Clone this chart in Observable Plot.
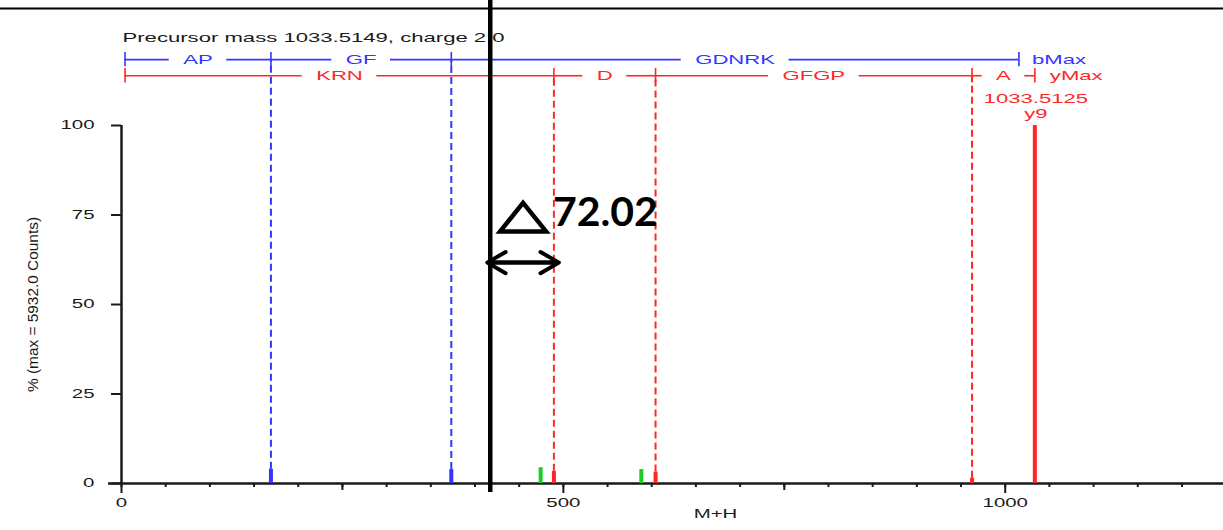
<!DOCTYPE html>
<html>
<head>
<meta charset="utf-8">
<script src="https://cdn.jsdelivr.net/npm/d3@7"></script>
<script src="https://cdn.jsdelivr.net/npm/@observablehq/plot@0.6"></script>
<style>
  html, body { margin: 0; padding: 0; background: #fff; }
  #chart svg { display: block; }
</style>
</head>
<body>
<div id="chart"></div>
<script>
// ---- spectrum data -------------------------------------------------------
const precursorMass = 1033.5149;
const precursorCharge = "2.0";
const maxCounts = "5932.0";

// b-ion ladder: fragment masses and the residues between them
const bLadderMasses = [4, 169.1, 373.2, 1015.5];
const bLadderLabels = ["AP", "GF", "GDNRK"];

// y-ion ladder: fragment masses and the residues between them
const yLadderMasses = [4, 489.29, 604.32, 962.48, 1033.5125];
const yLadderLabels = ["KRN", "D", "GFGP", "A"];

// observed peaks (M+H, % of base peak, ion type)
const peakMz   = [169.1, 373.2, 474.3, 489.29, 588.2, 604.32, 962.48, 1033.5125];
const peakPct  = [4.0,   3.9,   4.4,   3.4,    3.9,   3.2,    1.5,    100];
const peakType = ["b",   "b",   "other","y",   "other","y",   "y",    "y"];

// labelled base peak
const basePeakMz = 1033.5125;
const basePeakIon = "y9";

// mass shift of the y3 fragment
const shiftDelta = 72.02;
const shiftedY3 = 489.29;

// ---- layout --------------------------------------------------------------
const W = 1223, H = 530;
const M = {top: 125, right: 0, bottom: 47, left: 121};
const xDomain = [0, 1247];
const pxPerUnit = (W - M.left - M.right) / (xDomain[1] - xDomain[0]);
const font = "'Liberation Sans', Arial, sans-serif";
const blue = "#3535ff", red = "#ff2626", green = "#1fcc1f", ink = "#1a1a1a";
const rowB = 118.4, rowY = 113.9;        // ladder rows, in % units above the frame
const textStretch = 1.7;                  // the spectrum's labels are drawn wide

const peaks = peakMz.map((mz, i) => ({mz, pct: peakPct[i], type: peakType[i]}));
const colorOf = {b: blue, y: red, other: green};

// width of a label once stretched, used to open a gap in the ladder line
const ctx = document.createElement("canvas").getContext("2d");
ctx.font = "13px 'Liberation Sans'";
const halfGap = s => (ctx.measureText(s).width * textStretch) / 2 + 14;

function ladder(masses, labels, row) {
  const segs = labels.map((label, i) => {
    const a = masses[i], b = masses[i + 1], mid = (a + b) / 2;
    return {a, b, mid, label, g: halfGap(label) / pxPerUnit, row};
  });
  const lines = segs.flatMap(s => [
    {x1: s.a, x2: s.mid - s.g, row},
    {x1: s.mid + s.g, x2: s.b, row}
  ]).filter(d => d.x2 > d.x1);
  return {segs, lines, ticks: masses.map(m => ({m, row}))};
}
const bL = ladder(bLadderMasses, bLadderLabels, rowB);
const yL = ladder(yLadderMasses, yLadderLabels, rowY);

const pctAt = mz => peaks.find(p => Math.abs(p.mz - mz) < 0.5)?.pct ?? 0;
const guides = [
  ...bLadderMasses.slice(1, -1).map(m => ({m, row: rowB, c: blue, top: pctAt(m)})),
  ...yLadderMasses.slice(1, -1).map(m => ({m, row: rowY, c: red, top: pctAt(m)}))
];

const expectedY3 = shiftedY3 - shiftDelta;
const arrowY = 61.7;

const yLabel = `% (max = ${maxCounts} Counts)`;
const shiftText = shiftDelta.toFixed(2);

// custom flat triangle for the delta sign
const deltaSymbol = {
  draw(context, size) {
    const w = Math.sqrt(size / Math.PI) * 2, h = w * 0.62;
    context.moveTo(0, -h / 2);
    context.lineTo(w / 2, h / 2);
    context.lineTo(-w / 2, h / 2);
    context.closePath();
  }
};

const ladderMarks = (L, c, endLabel) => [
  Plot.ruleY(L.lines, {x1: "x1", x2: "x2", y: "row", stroke: c, strokeWidth: 1.6}),
  Plot.ruleX(L.ticks, {x: "m", y1: d => d.row - 2, y2: d => d.row + 2, stroke: c, strokeWidth: 1.6}),
  Plot.text(L.segs, {x: "mid", y: "row", text: "label", fill: c, fontSize: 13, fontFamily: font}),
  Plot.text([L.ticks[L.ticks.length - 1]], {x: "m", y: "row", text: () => endLabel, fill: c, fontSize: 13,
    fontFamily: font, textAnchor: "start", dx: endLabel === "bMax" ? 13 : 15})
];

const plot = Plot.plot({
  width: W, height: H,
  marginTop: M.top, marginRight: M.right, marginBottom: M.bottom, marginLeft: M.left,
  style: {fontFamily: font, fontSize: "12px", background: "#fff", overflow: "visible"},
  x: {domain: xDomain},
  y: {domain: [0, 100]},
  marks: [
    // rule across the top of the figure
    Plot.ruleY([132.7], {insetLeft: -M.left, stroke: "#000", strokeWidth: 2}),

    // axes
    Plot.axisX({ticks: d3.range(0, 1201, 50), tickSize: 4, tickFormat: () => "", stroke: ink, strokeWidth: 2}),
    Plot.axisX({ticks: [250, 750], tickSize: 7, tickFormat: () => "", stroke: ink, strokeWidth: 2}),
    Plot.axisX({ticks: [0, 500, 1000], tickSize: 10, tickPadding: 5, tickFormat: d => String(d), label: null,
      stroke: ink, fill: ink, strokeWidth: 2, fontSize: 12}),
    Plot.axisY({ticks: [0, 25, 50, 75, 100], tickSize: 10, tickPadding: 17, tickFormat: d => String(d), label: null,
      stroke: ink, fill: ink, strokeWidth: 2, fontSize: 12}),
    Plot.ruleY([0], {insetLeft: -13, stroke: ink, strokeWidth: 2.5}),
    Plot.ruleX([0], {y1: 0, y2: 100, stroke: ink, strokeWidth: 2.5}),
    Plot.text(["M+H"], {frameAnchor: "bottom", dx: 43, dy: 34, fill: ink, fontSize: 12}),
    Plot.text([yLabel], {frameAnchor: "left", textAnchor: "middle", rotate: -90, dx: -88, fill: ink, fontSize: 14}),

    // dashed guides from the ladders down to the matched peaks
    Plot.ruleX(guides, {x: "m", y1: "top", y2: "row", stroke: "c", strokeWidth: 2, strokeDasharray: "7,4"}),

    // peaks
    Plot.ruleX(peaks, {x: "mz", y1: 0, y2: "pct", stroke: d => colorOf[d.type], strokeWidth: 4}),

    // fragment ladders
    ...ladderMarks(bL, blue, "bMax"),
    ...ladderMarks(yL, red, "yMax"),

    // header
    Plot.text([`Precursor mass ${precursorMass.toFixed(4)}, charge ${precursorCharge}`],
      {x: 0, y: 124.6, textAnchor: "start", dx: 1, fill: ink, fontSize: 13}),

    // base peak label
    Plot.text([basePeakMz], {x: d => d, y: 100, text: d => d.toFixed(4), dy: -27, dx: 1, fill: red, fontSize: 13}),
    Plot.text([basePeakMz], {x: d => d, y: 100, text: () => basePeakIon, dy: -12, dx: 1, fill: red, fontSize: 13}),

    // mass-shift annotation
    Plot.ruleX([expectedY3], {y1: -2.5, y2: 135, stroke: "#000", strokeWidth: 4.5}),
    Plot.arrow([{a: expectedY3, b: shiftedY3}], {x1: "b", x2: "a", y1: arrowY, y2: arrowY, stroke: "#000",
      strokeWidth: 4, headLength: 8.5, headAngle: 60, insetEnd: -3}),
    Plot.arrow([{a: expectedY3, b: shiftedY3}], {x1: "a", x2: "b", y1: arrowY, y2: arrowY, stroke: "#000",
      strokeWidth: 4, headLength: 8.5, headAngle: 60, insetEnd: -5}),
    Plot.dot([(expectedY3 + shiftedY3) / 2], {x: d => d, y: 74.4, dx: 1, symbol: deltaSymbol, r: 23,
      stroke: "#000", strokeWidth: 4.5, fill: "none", strokeLinejoin: "miter"}),
    Plot.text([shiftText], {x: shiftedY3, y: 75.7, textAnchor: "start", dx: -1,
      fill: "#000", fontSize: 41, fontWeight: "bold", fontFamily: "Lato, 'Liberation Sans', sans-serif"})
  ]
});

document.getElementById("chart").append(plot);

// widen the spectrum's text the way the instrument software renders it
const stretchFor = s => s === shiftText ? 1 : s === yLabel ? 1.1 : textStretch;
plot.querySelectorAll("text").forEach(t => {
  const k = stretchFor(t.textContent);
  const len = t.getComputedTextLength();
  if (k !== 1 && len > 0) {
    t.setAttribute("textLength", (len * k).toFixed(1));
    t.setAttribute("lengthAdjust", "spacingAndGlyphs");
  }
});
</script>
</body>
</html>
